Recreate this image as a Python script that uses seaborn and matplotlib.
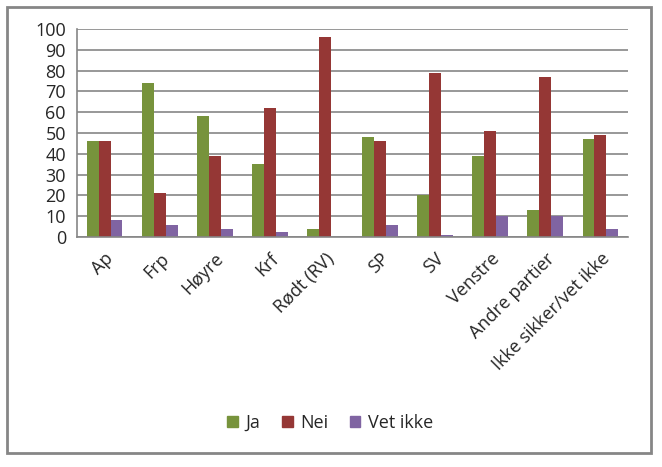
import pandas as pd
import numpy as np
import matplotlib
matplotlib.use("Agg")
import matplotlib.pyplot as plt
import seaborn as sns
from matplotlib.patches import Rectangle

# Data
partier = ["Ap", "Frp", "Høyre", "Krf", "Rødt (RV)", "SP", "SV", "Venstre",
           "Andre partier", "Ikke sikker/vet ikke"]
ja = [46, 74, 58, 35, 4, 48, 20, 39, 13, 47]
nei = [46, 21, 39, 62, 96, 46, 79, 51, 77, 49]
vet_ikke = [8, 6, 4, 2.5, 0, 6, 1, 10, 10, 4]
serier = ["Ja", "Nei", "Vet ikke"]
farger = ["#77933C", "#953735", "#8064A2"]

df = pd.DataFrame({"parti": partier, "Ja": ja, "Nei": nei, "Vet ikke": vet_ikke})
df_long = df.melt(id_vars="parti", var_name="svar", value_name="prosent")

sns.set_style("white")
plt.rcParams["font.family"] = ["Open Sans", "DejaVu Sans"]
grid_col = "#868686"

fig = plt.figure(figsize=(6.62, 4.67), dpi=100)
ax = fig.add_axes([77 / 662, 1 - 237 / 467, 551 / 662, 208 / 467])

sns.barplot(data=df_long, x="parti", y="prosent", hue="svar", hue_order=serier,
            palette=farger, width=0.65, saturation=1, linewidth=0, ax=ax, legend=False)

ax.set_ylim(0, 100)
ax.set_xlim(-0.5, len(partier) - 0.5)
ax.set_yticks(range(0, 101, 10))
ax.yaxis.grid(True, color=grid_col, linewidth=1.2)
ax.set_axisbelow(True)
ax.set_xlabel("")
ax.set_ylabel("")

for s in ["top", "right"]:
    ax.spines[s].set_visible(False)
for s in ["left", "bottom"]:
    ax.spines[s].set_color(grid_col)
    ax.spines[s].set_linewidth(1.2)

ax.tick_params(axis="y", length=5, color=grid_col, width=1.2, labelsize=13, pad=3)
ax.tick_params(axis="x", which="major", length=0, labelsize=13, pad=9)
ax.set_xticks(np.arange(-0.5, len(partier), 1), minor=True)
ax.tick_params(axis="x", which="minor", length=6, color=grid_col, width=1.2)
ax.set_xticklabels(partier, rotation=45, ha="right", rotation_mode="anchor")

# legend at bottom
handles = [Rectangle((0, 0), 1, 1, color=c) for c in farger]
fig.legend(handles, serier, loc="center", bbox_to_anchor=(330 / 662, 1 - 423 / 467),
           ncol=3, frameon=False, fontsize=13, handlelength=0.6, handleheight=0.6,
           handletextpad=0.4, columnspacing=1.2)

# outer frame
fig.patches.append(Rectangle((7 / 662, 1 - 453 / 467), 644 / 662, 446 / 467,
                             transform=fig.transFigure, fill=False,
                             edgecolor=grid_col, linewidth=2))

fig.savefig("out.png", dpi=100)
